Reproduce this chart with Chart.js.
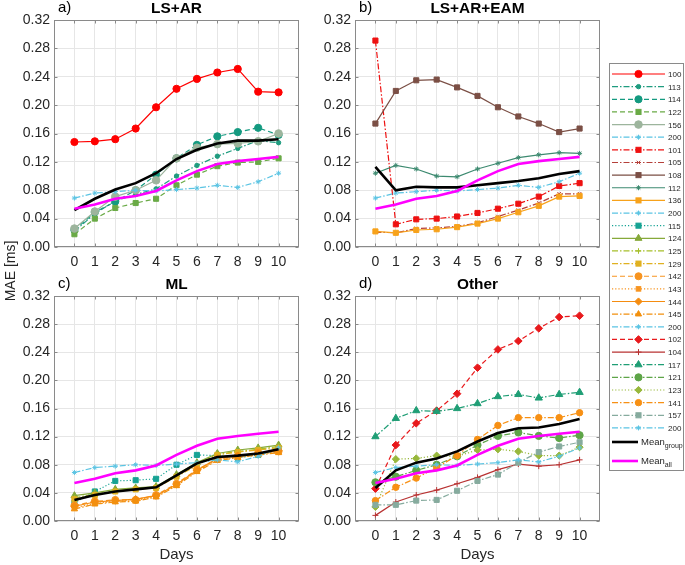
<!DOCTYPE html>
<html><head><meta charset="utf-8">
<script src="https://cdn.jsdelivr.net/npm/chart.js@4.4.0/dist/chart.umd.min.js"></script>
<style>
body{margin:0;background:#fff;width:685px;height:565px;position:relative;overflow:hidden;font-family:"Liberation Sans",Arial,sans-serif;}
canvas{position:absolute;}
#ov{position:absolute;left:0;top:0;pointer-events:none;}
</style></head><body>
<canvas id="ca" width="305" height="275" style="left:0px;top:0px"></canvas>
<canvas id="cb" width="305" height="275" style="left:301px;top:0px"></canvas>
<canvas id="cc" width="305" height="273" style="left:0px;top:276px"></canvas>
<canvas id="cd" width="305" height="273" style="left:301px;top:276px"></canvas>
<svg id="ov" width="685" height="565" xmlns="http://www.w3.org/2000/svg"></svg>
<script>
// ---------- data ----------
const days = [0,1,2,3,4,5,6,7,8,9,10];
const yTicks = [0,0.04,0.08,0.12,0.16,0.20,0.24,0.28,0.32];
const panelTitles = ["LS+AR","LS+AR+EAM","ML","Other"];
const panelLetters = ["a)","b)","c)","d)"];

// shared
const s200 = [0.069,0.076,0.078,0.080,0.079,0.081,0.083,0.087,0.084,0.092,0.104];
const meanAll = [0.054,0.060,0.068,0.072,0.079,0.094,0.107,0.117,0.121,0.124,0.127];

// a) LS+AR
const s100 = [0.148,0.149,0.152,0.167,0.197,0.223,0.237,0.246,0.251,0.219,0.218];
const s113 = [0.022,0.047,0.065,0.074,0.082,0.100,0.115,0.128,0.139,0.150,0.147];
const s114 = [0.024,0.049,0.064,0.080,0.102,0.125,0.144,0.156,0.162,0.168,0.158];
const s122 = [0.018,0.040,0.055,0.062,0.068,0.087,0.102,0.114,0.119,0.120,0.125];
const s156 = [0.026,0.050,0.071,0.080,0.094,0.125,0.140,0.145,0.146,0.149,0.160];
const meanA = [0.052,0.068,0.081,0.090,0.104,0.124,0.137,0.146,0.150,0.150,0.152];

// b) LS+AR+EAM
const s101 = [0.291,0.032,0.039,0.040,0.043,0.048,0.054,0.061,0.071,0.086,0.090];
const s105 = [0.021,0.020,0.026,0.027,0.029,0.034,0.043,0.052,0.062,0.075,0.075];
const s108 = [0.174,0.220,0.235,0.236,0.225,0.213,0.197,0.184,0.174,0.162,0.167];
const s112 = [0.104,0.115,0.110,0.100,0.099,0.110,0.118,0.126,0.130,0.133,0.132];
const s136 = [0.022,0.020,0.024,0.025,0.028,0.033,0.040,0.049,0.058,0.071,0.072];
const meanB = [0.113,0.080,0.085,0.084,0.084,0.087,0.090,0.093,0.097,0.103,0.107];

// c) ML
const s115 = [0.026,0.042,0.057,0.058,0.060,0.080,0.094,0.093,0.090,0.094,0.100];
const s124 = [0.036,0.040,0.045,0.047,0.049,0.066,0.083,0.096,0.101,0.104,0.108];
const s125 = [0.033,0.038,0.043,0.046,0.048,0.064,0.081,0.095,0.099,0.102,0.106];
const s129 = [0.031,0.037,0.042,0.045,0.047,0.063,0.079,0.094,0.098,0.101,0.104];
const s142 = [0.022,0.028,0.030,0.030,0.037,0.053,0.073,0.088,0.092,0.097,0.099];
const s143 = [0.019,0.025,0.028,0.029,0.035,0.051,0.071,0.087,0.091,0.095,0.098];
const s144 = [0.021,0.027,0.029,0.031,0.036,0.052,0.072,0.089,0.093,0.096,0.100];
const s145 = [0.017,0.024,0.027,0.028,0.034,0.050,0.070,0.086,0.090,0.094,0.097];
const meanC = [0.030,0.037,0.042,0.045,0.048,0.065,0.082,0.091,0.093,0.096,0.102];

// d) Other
const s102 = [0.046,0.108,0.139,0.157,0.181,0.218,0.244,0.256,0.274,0.290,0.292];
const s104 = [0.008,0.027,0.037,0.044,0.053,0.062,0.073,0.081,0.078,0.080,0.087];
const s117 = [0.120,0.146,0.157,0.156,0.160,0.167,0.177,0.180,0.175,0.180,0.183];
const s121 = [0.055,0.063,0.072,0.080,0.092,0.108,0.121,0.126,0.121,0.118,0.122];
const s123 = [0.020,0.088,0.089,0.093,0.092,0.101,0.102,0.099,0.093,0.093,0.105];
const s141 = [0.029,0.048,0.061,0.076,0.093,0.116,0.136,0.147,0.147,0.147,0.154];
const s157 = [0.023,0.023,0.029,0.030,0.043,0.057,0.066,0.083,0.098,0.106,0.112];
const meanD = [0.047,0.072,0.083,0.089,0.099,0.113,0.125,0.132,0.133,0.138,0.145];

// ---------- styles ----------
const DASH = {solid:[], dash:[5,3], dot:[1.2,2], dashdot:[6,2,1.5,2]};
function S(label,data,color,dash,marker,r){return {label,data,color,dash,marker,r};}
const groups = [
  { series:[
      S("100",s100,"#ff0000","solid","circle",3.6),
      S("113",s113,"#1f9c7f","dashdot","circle",2.2),
      S("114",s114,"#149a80","dash","circle",3.6),
      S("122",s122,"#6aaa46","dash","rect",3.6),
      S("156",s156,"#9db59d","solid","circle",3.8),
      S("200",s200,"#5bc4e3","dashdot","star",2.5)], mean: meanA },
  { series:[
      S("101",s101,"#ee1111","dashdot","rect",3.6),
      S("105",s105,"#b5403a","dashdot","crossRot",2.5),
      S("108",s108,"#7b4f45","solid","rect",3.6),
      S("112",s112,"#3d8a70","solid","star",2.5),
      S("136",s136,"#f7a21b","solid","rect",3.6),
      S("200",s200,"#5bc4e3","dashdot","star",2.5)], mean: meanB },
  { series:[
      S("115",s115,"#17a394","dot","rect",3.6),
      S("124",s124,"#86a93a","solid","triangle",4),
      S("125",s125,"#a6bf2a","dashdot","cross",2.8),
      S("129",s129,"#e0b120","dashdot","rect",3.6),
      S("142",s142,"#f79420","dash","circle",3.5),
      S("143",s143,"#f79420","dot","rect",3.2),
      S("144",s144,"#f58c10","solid","rectRot",3.6),
      S("145",s145,"#f2900e","dashdot","triangle",3.6),
      S("200",s200,"#5bc4e3","dashdot","star",2.5)], mean: meanC },
  { series:[
      S("102",s102,"#e8191c","dash","rectRot",3.8),
      S("104",s104,"#b83232","solid","cross",3),
      S("117",s117,"#1f9e75","dashdot","triangle",4.2),
      S("121",s121,"#5ea548","dashdot","circle",3.6),
      S("123",s123,"#98b83c","dot","rectRot",3.6),
      S("141",s141,"#f79014","dashdot","circle",3.2),
      S("157",s157,"#86ab9e","dashdot","rect",3.6),
      S("200",s200,"#5bc4e3","dashdot","star",2.5)], mean: meanD }
];

const FONT = "'Liberation Sans', Arial, sans-serif";
const BOX = "#8a8a8a";

const boxPlugin = {
  id:'box',
  afterDraw(chart){
    const {ctx, chartArea:a, scales} = chart;
    ctx.save();
    ctx.strokeStyle = BOX; ctx.lineWidth = 1;
    const l = a.left+0.5, r = a.right-0.5, t = a.top+0.5, b = a.bottom-0.5;
    ctx.strokeRect(l, t, r-l, b-t);
    ctx.beginPath();
    days.forEach(v=>{
      const x = Math.round(scales.x.getPixelForValue(v))+0.5;
      ctx.moveTo(x,b); ctx.lineTo(x,b-3);
      ctx.moveTo(x,t); ctx.lineTo(x,t+3);
    });
    yTicks.forEach(v=>{
      const y = Math.round(scales.y.getPixelForValue(v))+0.5;
      ctx.moveTo(l,y); ctx.lineTo(l+3,y);
      ctx.moveTo(r,y); ctx.lineTo(r-3,y);
    });
    ctx.stroke();
    ctx.restore();
  }
};

function makePanel(id, g){
  const datasets = [];
  g.series.forEach((s,i)=>{
    datasets.push({
      label:s.label,
      data:s.data.map((v,k)=>({x:days[k],y:v})),
      borderColor:s.color, backgroundColor:s.color,
      pointBackgroundColor:s.color, pointBorderColor:s.color,
      borderWidth:1.2, borderDash:DASH[s.dash],
      pointStyle:s.marker, pointRadius:s.r, pointBorderWidth:1,
      tension:0, order:100-i
    });
  });
  datasets.push({label:"Mean group", data:g.mean.map((v,k)=>({x:days[k],y:v})),
    borderColor:"#000000", borderWidth:2.6, pointRadius:0, tension:0, order:2});
  datasets.push({label:"Mean all", data:meanAll.map((v,k)=>({x:days[k],y:v})),
    borderColor:"#ff00ff", borderWidth:2.6, pointRadius:0, tension:0, order:1});
  new Chart(document.getElementById(id), {
    type:'line',
    data:{datasets},
    plugins:[boxPlugin],
    options:{
      responsive:false, animation:false, events:[],
      layout:{padding:{top:20,right:6,left:0,bottom:0}},
      plugins:{legend:{display:false}, tooltip:{enabled:false}},
      scales:{
        x:{type:'linear', min:-1, max:11,
           afterBuildTicks:(s)=>{s.ticks = days.map(v=>({value:v}));},
           afterFit:(s)=>{s.height = 28;},
           grid:{color:'#e6e6e6', drawTicks:false},
           border:{display:false},
           ticks:{font:{family:FONT,size:14}, color:'#262626', padding:7, maxRotation:0, autoSkip:false,
                  callback:(v)=>String(v)}},
        y:{type:'linear', min:0, max:0.32,
           afterBuildTicks:(s)=>{s.ticks = yTicks.map(v=>({value:v}));},
           afterFit:(s)=>{s.width = 54;},
           grid:{color:'#e6e6e6', drawTicks:false},
           border:{display:false},
           ticks:{font:{family:FONT,size:14}, color:'#262626', padding:4,
                  callback:(v)=>Number(v).toFixed(2)}}
      }
    }
  });
}
makePanel('ca', groups[0]);
makePanel('cb', groups[1]);
makePanel('cc', groups[2]);
makePanel('cd', groups[3]);

// ---------- overlay text and legend (SVG) ----------
const NS = "http://www.w3.org/2000/svg";
const svg = document.getElementById('ov');
function el(tag, attrs, text){
  const e = document.createElementNS(NS, tag);
  for (const k in attrs) e.setAttribute(k, attrs[k]);
  if (text !== undefined) e.textContent = text;
  svg.appendChild(e); return e;
}
const panelPos = [[54,299,20],[355,600,20],[54,299,296],[355,600,296]];
panelPos.forEach((p,i)=>{
  el('text',{x:p[0]+4, y:p[2]-8, 'font-family':FONT, 'font-size':15, fill:'#000'}, panelLetters[i]);
  el('text',{x:(p[0]+p[1])/2, y:p[2]-7.5, 'font-family':FONT, 'font-size':15.4, 'font-weight':'bold', 'text-anchor':'middle', fill:'#000'}, panelTitles[i]);
});
el('text',{x:0,y:0,transform:'translate(15,271) rotate(-90)', 'font-family':FONT,'font-size':14,'text-anchor':'middle',fill:'#262626'},'MAE [ms]');
el('text',{x:176.5,y:559,'font-family':FONT,'font-size':15,'text-anchor':'middle',fill:'#262626'},'Days');
el('text',{x:477.5,y:559,'font-family':FONT,'font-size':15,'text-anchor':'middle',fill:'#262626'},'Days');

// legend box
el('rect',{x:609.5,y:63.5,width:74,height:407,fill:'#fff',stroke:BOX,'stroke-width':1});
function marker(style,cx,cy,r,color){
  const common = {fill:color, stroke:color, 'stroke-width':1};
  if (style==='circle') el('circle',Object.assign({cx,cy,r},common));
  else if (style==='rect'){ const s=r*Math.SQRT1_2; el('rect',Object.assign({x:cx-s,y:cy-s,width:2*s,height:2*s},common)); }
  else if (style==='rectRot'){ el('polygon',Object.assign({points:`${cx},${cy-r} ${cx+r},${cy} ${cx},${cy+r} ${cx-r},${cy}`},common)); }
  else if (style==='triangle'){ const a=r*Math.sin(Math.PI/3), b=r*0.5; el('polygon',Object.assign({points:`${cx},${cy-r} ${cx+a},${cy+b} ${cx-a},${cy+b}`},common)); }
  else {
    let d='';
    if (style==='cross'||style==='star') d+=`M${cx-r},${cy}L${cx+r},${cy}M${cx},${cy-r}L${cx},${cy+r}`;
    if (style==='crossRot'||style==='star'){ const q=r*Math.SQRT1_2; d+=`M${cx-q},${cy-q}L${cx+q},${cy+q}M${cx-q},${cy+q}L${cx+q},${cy-q}`; }
    el('path',{d, stroke:color, 'stroke-width':1, fill:'none'});
  }
}
let idx = 0;
groups.forEach(g=>{
  g.series.forEach(s=>{
    const y = 74 + idx*12.64;
    el('line',{x1:612,y1:y,x2:665,y2:y,stroke:s.color,'stroke-width':1.2,'stroke-dasharray':DASH[s.dash].join(' ')||'none'});
    marker(s.marker,638.5,y,s.r,s.color);
    el('text',{x:668,y:y+3,'font-family':FONT,'font-size':8,fill:'#262626'},s.label);
    idx++;
  });
});
el('line',{x1:612,y1:442,x2:638,y2:442,stroke:'#000','stroke-width':2.6});
const t1 = el('text',{x:641,y:445,'font-family':FONT,'font-size':9.5,fill:'#262626'},'Mean');
const ts1 = document.createElementNS(NS,'tspan'); ts1.setAttribute('dy','3'); ts1.setAttribute('font-size','7'); ts1.textContent='group'; t1.appendChild(ts1);
el('line',{x1:612,y1:461,x2:638,y2:461,stroke:'#ff00ff','stroke-width':2.6});
const t2 = el('text',{x:641,y:464,'font-family':FONT,'font-size':9.5,fill:'#262626'},'Mean');
const ts2 = document.createElementNS(NS,'tspan'); ts2.setAttribute('dy','3'); ts2.setAttribute('font-size','7'); ts2.textContent='all'; t2.appendChild(ts2);
</script>
</body></html>
